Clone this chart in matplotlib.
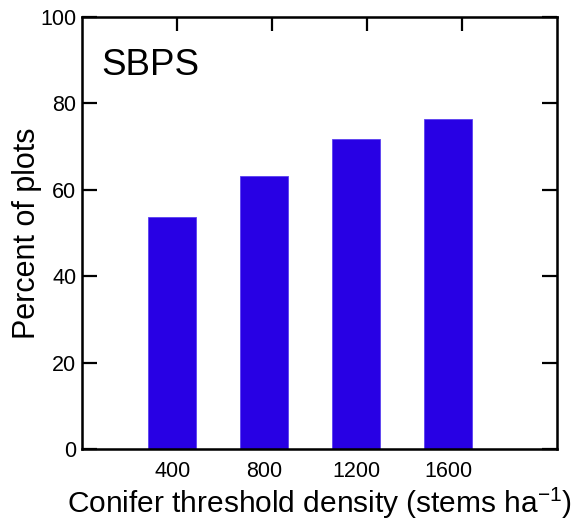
import numpy as np
import matplotlib
matplotlib.use("Agg")
import matplotlib.pyplot as plt

# values
densities = [400, 800, 1200, 1600]
tick_labels = ["400", "800", "1200", "1600"]
percents = [53.6, 63.2, 71.8, 76.4]
y_ticks = [0, 20, 40, 60, 80, 100]

plt.rcParams['font.family'] = ['Liberation Sans', 'DejaVu Sans']

fig = plt.figure(figsize=(5.82, 5.25), dpi=100)
ax = fig.add_axes([0.1409, 0.1448, 0.8161, 0.8228])

ax.bar(densities, percents, width=210, color='#2800E4', edgecolor='#5A40F0', linewidth=0.6)

ax.set_xlim(7, 2074)
ax.set_ylim(0, 100)
ax.set_xticks(densities)
ax.set_xticklabels(tick_labels)
ax.set_yticks(y_ticks)

for s in ax.spines.values():
    s.set_linewidth(1.8)

ax.tick_params(axis='y', direction='in', length=11, width=1.6, labelsize=15.5,
               left=True, right=True, pad=4)
ax.tick_params(axis='x', length=0, labelsize=15.5, pad=9)

# top axis has its own evenly spaced ticks
top = ax.twiny()
top.set_xlim(0, 5)
top.set_xticks([1, 2, 3, 4])
top.tick_params(axis='x', direction='in', length=10, width=1.6, labeltop=False, top=True)

ax.set_xlabel("Conifer threshold density (stems ha$^{\\mathregular{-1}}$)", fontsize=21.5)
ax.xaxis.set_label_coords(0.5, -0.148)
ax.xaxis.label.set_va('baseline')
ax.set_ylabel("Percent of plots", fontsize=22)
ax.yaxis.set_label_coords(-0.084, 0.5)

ax.text(0.04, 0.866, "SBPS", transform=ax.transAxes, fontsize=26.5, ha='left', va='baseline')

fig.savefig("out.png", dpi=100)
